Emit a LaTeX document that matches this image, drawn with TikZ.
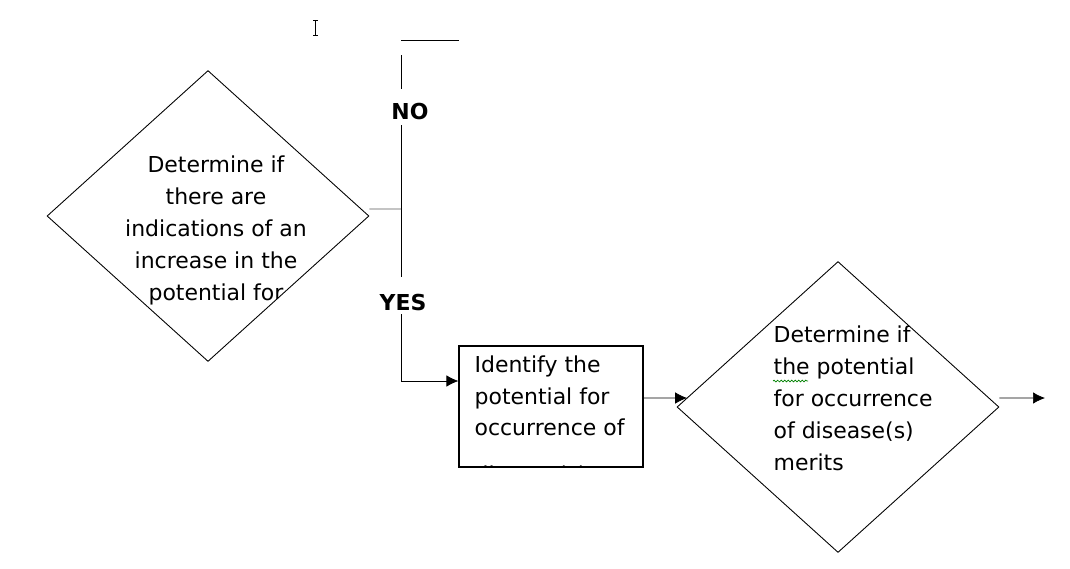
\documentclass[tikz,border=0pt]{standalone}
\usepackage{fontspec}
\setmainfont{DejaVu Sans}
\usetikzlibrary{shapes.geometric, arrows.meta, decorations.pathmorphing}
\tikzset{
>={Latex[length=2.4mm,width=2.3mm]}, % filled arrow heads
line width=0.6pt,
decision/.style={diamond, draw, line width=0.5pt, minimum width=6.44cm, minimum height=5.82cm, inner sep=0pt}, % question boxes
process/.style={rectangle, draw, line width=0.7pt, minimum width=3.68cm, minimum height=2.42cm, inner sep=0pt},
inside/.style={shape=rectangle, draw=none, fill=none, minimum width=0pt, minimum height=0pt, inner sep=0pt, font=\fontsize{12.5}{18.1}\selectfont}, % text clipped by its box
answer/.style={font=\bfseries\fontsize{12.5}{14}\selectfont, inner sep=1pt},
}

\begin{document}
\begin{tikzpicture}[x=0.02cm, y=-0.02cm]
      \useasboundingbox (0,0) rectangle (1070,568);

      \node[decision, path picture={
        \node[inside, anchor=north, align=center] (t1) at ([xshift=0.16cm, yshift=-1.7cm]path picture bounding box.north)
          {Determine if\\there are\\indications of an\\increase in the\\potential for};}] (check) at (208,216) {};
      \node[process, path picture={
        \node[inside, anchor=north west, align=left] (t2) at ([xshift=0.3cm, yshift=-0.18cm]path picture bounding box.north west)
          {Identify the\\potential for\\occurrence of};
        \node[inside, anchor=north west] (t2b) at ([xshift=0.3cm, yshift=-2.38cm]path picture bounding box.north west)
          {disease(s)};}] (identify) at (551,406.5) {};
      \node[decision, path picture={
        \node[inside, anchor=north west, align=left] (t3) at ([xshift=1.92cm, yshift=-1.28cm]path picture bounding box.north west)
          {Determine if\\the potential\\for occurrence\\of disease(s)\\merits};}] (merit) at (838,407) {};

      \node[answer] (no) at (410,112) {NO};
      \node[answer] (yes) at (403,302) {YES};

      \coordinate (bar1) at (401,40);
      \coordinate (bar2) at (459,40);
      \coordinate (top) at (401,55);
      \coordinate (noA) at (401,89);
      \coordinate (noB) at (401,125);
      \coordinate (jn) at (401,209);
      \coordinate (yesA) at (401,277);
      \coordinate (yesB) at (401,314);
      \coordinate (bend) at (401,381);
      \coordinate (out) at (1045,398);

      \draw (bar1) -- (bar2);
      \draw (top) -- (noA)
      (noB) -- (yesA);
      \draw[black!65] ([yshift=0.14cm]check.east) -- (jn);
      \draw[->] (yesB) -- (bend) -- (bend -| identify.west);
      \draw[->] ([yshift=0.17cm]identify.east) -- ([xshift=0.21cm, yshift=0.18cm]merit.west);
      \draw[->] ([yshift=0.18cm]merit.east) -- (out);

      % spell check mark and text cursor
      \draw[green!50!black, line width=0.4pt, decorate, decoration={snake, amplitude=0.5pt, segment length=2pt}] (773,381) -- (808,381);
      \draw[line width=0.5pt] (313,20) -- (318,20) (315.5,20) -- (315.5,35) (313,35) -- (318,35);
\end{tikzpicture}
\end{document}
